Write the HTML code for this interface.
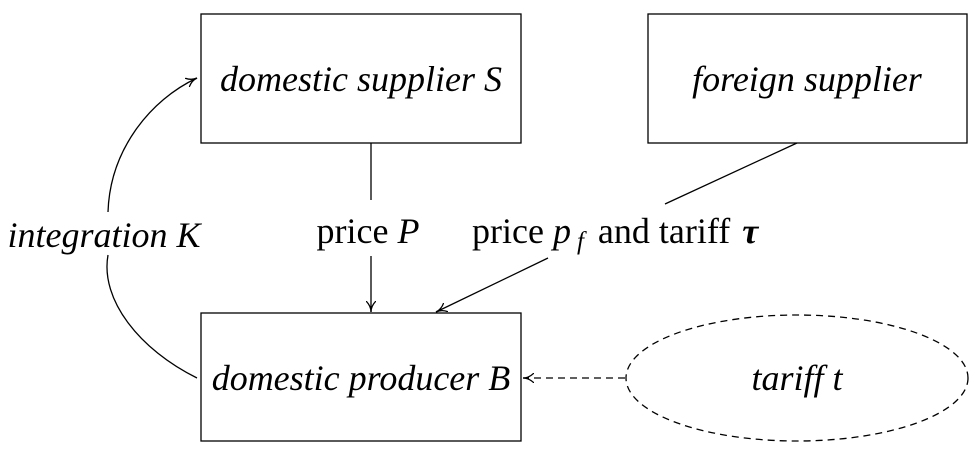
<!DOCTYPE html>
<html><head><style>
body{margin:0;background:#fff;}
svg{display:block;}
text{font-family:"Liberation Serif",serif;font-size:36px;fill:#000;}
.i{font-style:italic;}
</style></head><body>
<svg width="975" height="453" viewBox="0 0 975 453" xmlns="http://www.w3.org/2000/svg">
<defs>
<marker id="a" markerWidth="12" markerHeight="10" refX="11" refY="5" orient="auto" markerUnits="userSpaceOnUse">
<path d="M0,0 Q5,5 11,5 Q5,5 0,10" fill="none" stroke="#000" stroke-width="1.3"/>
</marker>
</defs>
<g fill="none" stroke="#000" stroke-width="1.3">
<rect x="201" y="14" width="320" height="129"/>
<rect x="648" y="14" width="319" height="129"/>
<rect x="201" y="313" width="320" height="128"/>
<ellipse cx="797" cy="378" rx="171" ry="63" stroke-dasharray="7,5"/>
<line x1="371" y1="143" x2="371" y2="200"/>
<line x1="371" y1="256" x2="371" y2="312" marker-end="url(#a)"/>
<line x1="797" y1="143" x2="665" y2="204"/>
<line x1="548" y1="258" x2="436" y2="312" marker-end="url(#a)"/>
<path d="M197,378 C140,350 100,300 108,255"/>
<path d="M108,212 C110,150 150,100 197,78" marker-end="url(#a)"/>
<line x1="625" y1="378" x2="523" y2="378" stroke-dasharray="7,5" marker-end="url(#a)"/>
</g>
<text x="361" y="91" text-anchor="middle" class="i">domestic supplier S</text>
<text x="807" y="91" text-anchor="middle" class="i">foreign supplier</text>
<text x="361" y="390" text-anchor="middle" class="i">domestic producer B</text>
<text x="797" y="390" text-anchor="middle" class="i">tariff t</text>
<text x="104" y="247" text-anchor="middle" class="i">integration K</text>
<text x="368" y="243" text-anchor="middle">price <tspan class="i">P</tspan></text>
<text x="472" y="243">price <tspan class="i">p</tspan><tspan class="i" font-size="25" dy="6" dx="6">f</tspan><tspan dy="-6" dx="14">and tariff</tspan><tspan class="i" dx="12" font-weight="bold">τ</tspan></text>
</svg>
</body></html>
